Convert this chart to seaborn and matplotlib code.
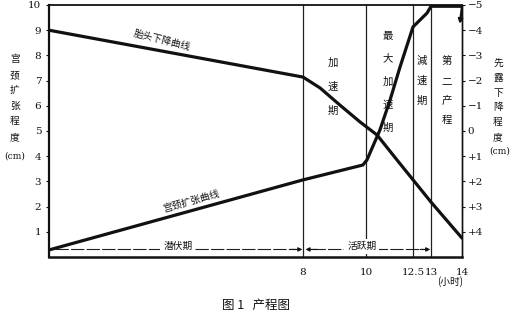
import numpy as np
import pandas as pd
import matplotlib
matplotlib.use("Agg")
import matplotlib.pyplot as plt
import seaborn as sns

# ---------------- data ----------------
x_ticks = [8, 10, 12.5, 13, 14]
x_tick_labels = ["8", "10", "12.5", "13", "14"]
left_ticks = [1, 2, 3, 4, 5, 6, 7, 8, 9, 10]
left_tick_labels = ["1", "2", "3", "4", "5", "6", "7", "8", "9", "10"]
right_ticks = [-5, -4, -3, -2, -1, 0, 1, 2, 3, 4]
right_tick_labels = ["−5", "−4", "−3", "−2", "−1", "0", "+1", "+2", "+3", "+4"]

# schematic (non-uniform) hour axis of the original drawing
scale_hours = [0, 8, 10, 12.5, 13, 14]
scale_pos = [0, 254, 317, 364, 382, 413]

# cervical dilation curve (cm)
dil_hours = [0, 8, 9.9, 10.05, 10.74, 11.28, 11.81, 12.5, 12.89, 13.0, 14.0]
dil_cm = [0.28, 3.06, 3.65, 3.85, 5.04, 6.23, 7.54, 9.13, 9.68, 9.95, 9.95]

# fetal head descent curve (station, cm)
head_hours = [0, 8, 8.54, 9.17, 9.81, 10.59, 11.65, 13, 14]
head_station = [-4, -2.14, -1.71, -1.03, -0.36, 0.16, 1.15, 2.82, 4.25]

phase_bounds = [8, 10, 12.5, 13]
phase_names = ["加速期", "最大加速期", "減速期", "第二产程"]

# ---------------- figure ----------------
sns.set_theme(style="white")
plt.rcParams["font.family"] = ["Noto Sans CJK SC", "DejaVu Sans"]

W, H = 517, 325
fig = plt.figure(figsize=(W / 100, H / 100), dpi=100)
fig.patch.set_facecolor("white")
ax = fig.add_axes([49 / W, 1 - 257 / H, (462 - 49) / W, (257 - 5) / H])
ax.set_facecolor("white")

fwd = lambda v: np.interp(v, scale_hours, scale_pos)
inv = lambda p: np.interp(p, scale_pos, scale_hours)
ax.set_xscale("function", functions=(fwd, inv))

dil_df = pd.DataFrame({"h": dil_hours, "v": dil_cm})
sns.lineplot(data=dil_df, x="h", y="v", ax=ax, color="#111111", lw=2.3,
             sort=False, estimator=None, solid_capstyle="round")

ax2 = ax.twinx()
ax2.set_xscale("function", functions=(fwd, inv))
head_df = pd.DataFrame({"h": head_hours, "s": head_station})
sns.lineplot(data=head_df, x="h", y="s", ax=ax2, color="#111111", lw=2.3,
             sort=False, estimator=None, solid_capstyle="round")

for a in (ax, ax2):
    a.set_xlim(0, 14)
    a.set_xlabel("")
    a.set_ylabel("")
ax.set_ylim(0, 10)
ax2.set_ylim(5, -5)

# phase boundaries
for b in phase_bounds:
    ax.axvline(b, color="#222222", lw=0.9, zorder=1)

# hook at the end of the dilation curve
ax.annotate("", xy=(13.93, 9.25), xytext=(14.0, 9.95),
            arrowprops=dict(arrowstyle="-|>", color="#111111", lw=1.6,
                            mutation_scale=6, shrinkA=0, shrinkB=0))

# ticks
ax.set_xticks(x_ticks)
ax.set_xticklabels(x_tick_labels)
ax.set_yticks(left_ticks)
ax.set_yticklabels(left_tick_labels)
ax2.set_yticks(right_ticks)
ax2.set_yticklabels(right_tick_labels)
ax.tick_params(axis="x", direction="out", length=3, width=0.8, pad=5,
               labelsize=7.5, colors="#111111")
ax.tick_params(axis="y", direction="out", length=2.5, width=0.8, pad=3,
               labelsize=7.5, colors="#111111")
ax2.tick_params(axis="y", direction="out", length=2, width=0.8, pad=2,
                labelsize=7.5, colors="#111111")
for lab in ax.get_xticklabels() + ax.get_yticklabels() + ax2.get_yticklabels():
    lab.set_family("DejaVu Serif")

for a in (ax, ax2):
    for s in a.spines.values():
        s.set_color("#111111")
ax.spines["left"].set_linewidth(1.6)
ax.spines["bottom"].set_linewidth(1.8)
ax.spines["top"].set_linewidth(1.3)
ax.spines["right"].set_linewidth(1.0)
ax2.spines["left"].set_visible(False)
ax2.spines["bottom"].set_visible(False)
ax2.spines["top"].set_visible(False)
ax2.spines["right"].set_linewidth(1.0)

# vertical phase labels
def vtext(x, y, s, ls):
    ax.text(x, y, "\n".join(s), ha="center", va="center", fontsize=7.5,
            color="#111111", linespacing=ls)

vtext(8.95, 6.75, phase_names[0], 2.7)
vtext(11.17, 6.95, phase_names[1], 2.6)
vtext(12.75, 7.0, phase_names[2], 2.2)
vtext(13.5, 6.6, phase_names[3], 2.2)

# curve labels
ax.text(3.56, 8.6, "胎头下降曲线", rotation=-14, ha="center", va="center",
        fontsize=7, color="#111111")
ax.text(4.47, 2.22, "宫颈扩张曲线", rotation=16, ha="center", va="center",
        fontsize=7, color="#111111")

# latent / active phase arrows
yline = 0.3
ax.plot([0.2, 7.75], [yline, yline], color="#222222", lw=0.8, ls=(0, (12, 2)))
ax.plot([8.3, 12.8], [yline, yline], color="#222222", lw=0.8, ls=(0, (12, 2)))
arr = dict(arrowstyle="-|>", color="#111111", lw=0.8, mutation_scale=6,
           shrinkA=0, shrinkB=0)
ax.annotate("", xy=(7.98, yline), xytext=(7.6, yline), arrowprops=arr)
ax.annotate("", xy=(8.08, yline), xytext=(8.45, yline), arrowprops=arr)
ax.annotate("", xy=(12.98, yline), xytext=(12.7, yline), arrowprops=arr)
bb = dict(facecolor="white", edgecolor="none", pad=2)
ax.text(4.06, 0.42, "潜伏期", ha="center", va="center", fontsize=7,
        color="#111111", bbox=bb)
ax.text(9.87, 0.42, "活跃期", ha="center", va="center", fontsize=7,
        color="#111111", bbox=bb)

# axis titles (vertical)
def ftext(x, y, s, **kw):
    fig.text(x / W, 1 - y / H, s, **kw)

ftext(15, 98, "\n".join("宫颈扩张程度"), ha="center", va="center",
      fontsize=7, linespacing=1.7, color="#111111")
ftext(15, 156, "(cm)", ha="center", va="center", fontsize=6.5,
      color="#111111", family="DejaVu Serif")
ftext(498, 100, "\n".join("先露下降程度"), ha="center", va="center",
      fontsize=7, linespacing=1.6, color="#111111")
ftext(500, 151, "(cm)", ha="center", va="center", fontsize=6.5,
      color="#111111", family="DejaVu Serif")
ftext(450, 282, "(小时)", ha="center", va="center", fontsize=7,
      color="#111111")

# caption
ftext(256, 305, "图 1   产程图", ha="center", va="center", fontsize=9,
      color="#111111")

fig.savefig("out.png", dpi=100, facecolor="white")
